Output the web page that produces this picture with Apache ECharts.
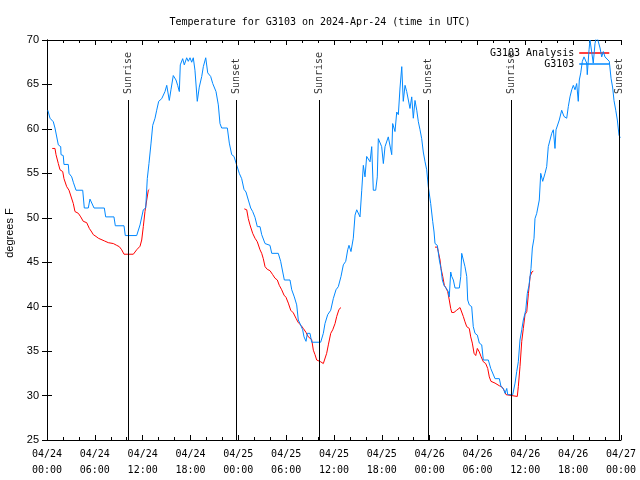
<!DOCTYPE html>
<html>
<head>
<meta charset="utf-8">
<script src="https://cdn.jsdelivr.net/npm/echarts@6/dist/echarts.min.js"></script>
<style>html,body{margin:0;padding:0;background:#fff}#c{width:640px;height:480px}</style>
</head>
<body>
<div id="c"></div>
<script>
// hours since 2024-04-24 00:00 UTC
var obsHours = [0.1,0.38,0.79,1.0,1.42,1.72,1.76,2.04,2.13,2.67,2.76,3.1,3.3,3.64,4.48,4.68,5.18,5.39,5.64,5.9,7.19,7.36,8.4,8.57,9.66,9.82,11.25,11.67,12.08,12.38,12.58,12.79,13.05,13.26,13.55,13.76,14.01,14.39,14.8,15.02,15.34,15.55,15.84,16.18,16.39,16.6,16.72,17.02,17.22,17.52,17.72,17.94,18.15,18.35,18.56,18.85,19.1,19.41,19.61,19.91,20.16,20.53,20.79,21.2,21.49,21.7,21.91,22.62,22.87,23.17,23.46,23.8,24.12,24.42,24.71,24.96,25.25,25.55,25.8,26.09,26.38,26.72,26.93,27.13,27.35,27.97,28.19,29.01,29.31,29.57,29.77,30.48,30.7,31.02,31.32,31.52,31.74,32.07,32.24,32.49,32.65,32.99,33.2,34.33,34.66,34.87,35.21,35.59,35.91,36.25,36.54,36.88,37.17,37.47,37.72,37.88,38.13,38.42,38.64,38.85,39.05,39.26,39.48,39.68,39.89,40.1,40.3,40.52,40.73,40.93,41.23,41.43,41.56,41.77,41.98,42.19,42.4,42.61,42.81,43.03,43.24,43.36,43.65,43.87,44.07,44.28,44.5,44.69,44.91,45.12,45.32,45.53,45.75,45.95,46.16,46.38,46.58,46.79,47.0,47.2,47.42,47.63,47.83,48.13,48.38,48.55,48.67,48.96,49.21,49.42,49.59,49.8,50.05,50.34,50.46,50.64,50.77,50.97,51.18,51.72,51.9,52.02,52.22,52.43,52.65,52.77,52.97,53.27,53.47,53.69,53.98,54.23,54.53,54.73,55.36,55.66,55.91,56.2,56.74,56.95,57.24,57.45,57.67,57.79,58.42,58.71,58.92,59.12,59.33,59.55,59.75,60.05,60.25,60.46,60.71,60.88,61.09,61.21,61.43,61.68,61.75,61.93,62.18,62.47,62.68,62.88,63.1,63.31,63.51,63.72,63.85,64.01,64.26,64.56,64.85,65.19,65.39,65.6,65.82,66.02,66.23,66.44,66.64,66.77,66.95,67.15,67.36,67.7,67.77,67.99,68.11,68.32,68.52,68.74,68.95,69.15,69.37,69.58,69.78,69.99,70.21,70.53,70.75,70.96,71.12,71.34,71.54,71.75,71.9];
var obsTemps = [62.1,61.2,60.8,60.1,58.2,58.0,57.1,57.0,56.0,56.0,55.0,54.6,54.0,53.1,53.1,51.1,51.1,52.1,52.1,51.1,51.1,50.1,50.1,49.1,49.1,48.0,48.0,49.2,50.9,51.1,54.4,56.1,58.4,60.4,61.2,62.1,63.1,63.4,64.2,64.9,63.2,64.4,66.0,65.5,64.9,64.2,67.2,67.9,67.2,68.0,67.6,68.0,67.5,68.0,66.6,63.1,64.7,65.9,67.0,68.0,66.3,65.9,65.1,64.2,62.7,60.6,60.1,60.1,58.4,57.1,56.9,55.9,55.0,54.4,53.2,52.9,52.0,51.1,50.7,50.05,49.0,49.0,48.1,48.1,47.1,46.9,46.0,46.0,45.1,43.9,43.0,43.0,41.9,41.1,40.2,38.5,38.1,37.4,36.6,36.1,37.0,37.0,36.0,36.0,37.0,38.1,39.1,39.6,40.9,41.9,42.25,43.4,44.7,45.1,46.4,46.9,46.2,47.7,50.3,50.9,51.1,50.1,53.1,55.9,54.6,56.9,57.1,56.3,58.0,53.1,53.1,54.6,58.9,59.1,58.0,56.1,58.0,58.0,59.1,59.3,57.1,60.6,59.7,61.9,61.6,64.6,67.0,63.1,64.9,64.2,64.2,62.3,63.6,61.2,63.2,62.1,60.8,59.9,58.9,57.4,56.3,55.4,53.5,51.6,49.6,48.4,47.1,46.9,45.25,44.3,43.0,42.4,42.1,41.7,41.1,43.9,43.4,43.0,42.1,42.1,43.4,46.0,46.0,44.5,43.4,40.75,40.2,40.0,37.75,37.0,36.8,35.9,35.7,34.0,34.0,33.05,33.05,31.9,31.9,31.0,30.8,30.25,30.8,30.1,30.1,31.4,32.7,33.8,36.25,37.4,38.5,39.6,41.5,42.4,44.3,46.6,47.7,49.9,50.5,50.7,52.0,55.0,54.1,55.0,55.75,58.0,58.2,59.5,59.9,57.8,59.9,60.1,61.0,62.1,61.4,61.2,62.5,63.6,64.4,64.9,64.4,65.1,63.1,65.5,66.3,67.6,68.1,67.4,66.1,68.9,70.0,70.0,67.4,69.6,70.5,70.5,69.1,68.1,68.7,68.1,68.1,67.6,65.7,64.6,63.2,62.1,61.0,59.3,59.0];

// analysis segments (hours, temps); null separates segments
var anaHours = [0.66,1.0,1.13,1.42,1.63,1.97,2.13,2.47,2.76,3.01,3.3,3.51,3.93,4.23,4.55,4.98,5.31,5.61,5.81,6.15,6.44,6.65,7.19,7.69,8.32,8.74,9.07,9.37,9.66,10.83,11.25,11.67,11.88,12.08,12.29,12.51,12.71,12.83,
  null,
  24.75,25.05,25.25,25.46,25.8,26.09,26.38,26.72,26.93,27.13,27.35,27.63,27.97,28.31,28.6,28.89,29.14,29.44,29.73,29.98,30.27,30.57,30.9,31.23,31.52,31.86,32.15,32.49,32.78,33.2,33.41,33.62,33.83,34.33,34.66,34.87,35.08,35.29,35.59,35.84,36.13,36.34,36.63,36.88,
  null,
  48.67,48.96,49.08,49.3,49.42,49.64,49.84,50.05,50.26,50.46,50.64,50.77,51.05,51.39,51.81,52.02,52.22,52.43,52.65,52.97,53.15,53.35,53.57,53.78,53.98,54.23,54.44,54.73,55.03,55.28,55.48,55.69,56.2,56.74,57.04,57.33,57.58,57.74,58.99,59.12,59.33,59.55,59.75,59.96,60.18,60.39,60.6,60.82,61.0];
var anaTemps = [57.8,57.8,57.1,56.1,55.4,55.2,54.4,53.5,53.1,52.9,51.6,50.7,50.5,50.1,49.6,49.45,48.8,48.4,48.1,47.9,47.7,47.5,47.4,47.2,47.1,46.9,46.75,46.4,45.9,45.9,46.4,46.8,47.5,49.0,50.7,52.0,53.1,53.2,
  null,
  51.0,50.9,49.9,49.2,48.25,47.7,47.3,46.4,46.0,45.4,44.5,44.2,44.05,43.6,43.2,43.0,42.4,41.9,41.3,41.05,40.4,39.6,39.3,38.7,38.2,37.9,37.55,37.1,36.6,36.3,35.1,34.6,34.0,33.8,33.6,33.4,34.75,35.7,37.0,37.4,38.1,38.9,39.7,39.9,
  null,
  46.7,46.7,46.2,45.25,44.3,43.4,42.4,42.1,41.7,40.75,39.8,39.35,39.35,39.6,39.9,39.8,38.9,38.3,37.75,37.55,36.6,35.9,34.75,34.5,35.3,34.9,34.4,33.8,33.6,33.05,32.1,31.6,31.4,31.1,31.0,30.6,30.1,29.9,29.9,31.0,33.25,36.1,37.55,39.1,39.45,41.5,43.4,43.9,44.0];

var eventNames = ['Sunrise','Sunset','Sunrise','Sunset','Sunrise','Sunset'];
var eventHours = [10.2,23.8,34.17,47.83,58.25,71.83];
var eventLineTop = 63.25;

var xTickLabels = ['04/24\n00:00','04/24\n06:00','04/24\n12:00','04/24\n18:00','04/25\n00:00','04/25\n06:00','04/25\n12:00','04/25\n18:00','04/26\n00:00','04/26\n06:00','04/26\n12:00','04/26\n18:00','04/27\n00:00'];

var MONO = 'DejaVu Sans Mono';
function pairs(xs, ys){ var o=[]; for(var i=0;i<xs.length;i++){ o.push(xs[i]===null?[null,null]:[xs[i],ys[i]]);} return o; }

var chart = echarts.init(document.getElementById('c'), null, {renderer:'canvas'});
var axisLine = {show:true, lineStyle:{color:'#000', width:1}};
chart.setOption({
  animation:false,
  backgroundColor:'#fff',
  title:{text:'Temperature for G3103 on 2024-Apr-24 (time in UTC)', left:'center', top:12,
    textStyle:{fontFamily:MONO, fontSize:10, fontWeight:'normal', color:'#000'}},
  legend:{right:25, top:43, orient:'vertical', align:'right', itemGap:1, itemWidth:30, itemHeight:11,
    itemStyle:{opacity:0}, lineStyle:{width:1.5},
    textStyle:{fontFamily:MONO, fontSize:10, color:'#000'},
    data:['G3103 Analysis','G3103']},
  grid:{left:47, right:19, top:40, bottom:40, containLabel:false, outerBoundsMode:'none'},
  xAxis:[{type:'value', min:0, max:72, interval:6, position:'bottom',
    axisLine:axisLine, splitLine:{show:false},
    axisTick:{show:true, inside:true, length:5, lineStyle:{color:'#000'}},
    minorTick:{show:true, splitNumber:3, length:3, lineStyle:{color:'#000'}},
    axisLabel:{fontFamily:MONO, fontSize:10, color:'#000', margin:6, lineHeight:16,
      formatter:function(v){ return xTickLabels[Math.round(v/6)]; }}},
    {type:'value', min:0, max:72, interval:6, position:'top',
    axisLine:axisLine, splitLine:{show:false},
    axisTick:{show:true, inside:true, length:5, lineStyle:{color:'#000'}},
    minorTick:{show:true, splitNumber:3, length:3, lineStyle:{color:'#000'}},
    axisLabel:{show:false}}],
  yAxis:[{type:'value', min:25, max:70, interval:5, position:'left',
    name:'degrees F', nameLocation:'middle', nameGap:31, nameRotate:90,
    nameTextStyle:{fontFamily:'Liberation Sans', fontSize:11, color:'#000', padding:[0,0,0,14]},
    axisLine:axisLine, splitLine:{show:false},
    axisTick:{show:true, inside:true, length:5, lineStyle:{color:'#000'}},
    axisLabel:{fontFamily:'Liberation Sans', fontSize:11, color:'#000', margin:8}},
    {type:'value', min:25, max:70, interval:5, position:'right',
    axisLine:axisLine, splitLine:{show:false},
    axisTick:{show:true, inside:true, length:5, lineStyle:{color:'#000'}},
    axisLabel:{show:false}}],
  series:[
    {name:'events', type:'line', data:[], silent:true,
      markLine:{silent:true, symbol:'none', animation:false,
        lineStyle:{color:'#000', width:1, type:'solid'}, label:{show:false},
        data: eventHours.map(function(h){ return [{coord:[h,25]},{coord:[h,eventLineTop]}]; })}},
    {name:'eventLabels', type:'scatter', symbolSize:0, silent:true,
      data: eventHours.map(function(h,i){ return {value:[h,eventLineTop], label:{formatter:eventNames[i]}}; }),
      label:{show:true, position:'top', distance:6, rotate:90, align:'left', verticalAlign:'middle',
        fontFamily:MONO, fontSize:10, color:'#000'}},
    {name:'G3103 Analysis', type:'line', showSymbol:false, symbol:'none', connectNulls:false,
      data:pairs(anaHours, anaTemps), lineStyle:{color:'#ff0000', width:1}, itemStyle:{color:'#ff0000'}, z:3},
    {name:'G3103', type:'line', showSymbol:false, symbol:'none',
      data:pairs(obsHours, obsTemps), lineStyle:{color:'#0088ff', width:1}, itemStyle:{color:'#0088ff'}, z:4}
  ]
});
</script>
</body>
</html>
